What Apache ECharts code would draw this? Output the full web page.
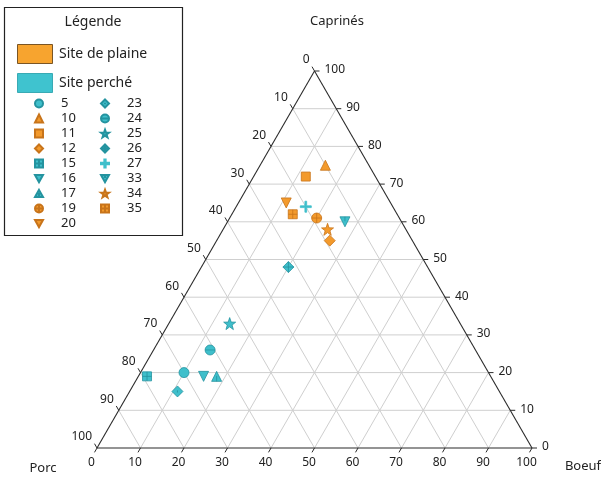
<!DOCTYPE html>
<html>
<head>
<meta charset="utf-8">
<script src="https://cdn.jsdelivr.net/npm/echarts@6/dist/echarts.min.js"></script>
<style>html,body{margin:0;padding:0;background:#fff}#c{width:601px;height:477px}</style>
</head>
<body>
<div id="c"></div>
<script>
// ---- data ----
const sites    = ['5','10','11','12','15','16','17','19','20','23','24','25','26','27','33','34','35'];
const boeuf    = [10, 15, 12, 26,  2, 15, 18, 20, 11, 11, 13, 14, 20, 16, 27, 24, 14];
const caprines = [20, 75, 72, 55, 19, 19, 19, 61, 65, 15, 26, 33, 48, 64, 60, 58, 62];
const porc     = [70, 10, 16, 19, 79, 66, 63, 19, 24, 74, 61, 53, 32, 20, 13, 18, 24];
const siteType = ['perché','plaine','plaine','plaine','perché','perché','perché','plaine','plaine',
                  'perché','perché','perché','perché','perché','perché','plaine','plaine'];
const tickValues = [0,10,20,30,40,50,60,70,80,90,100];
const legendCol1 = ['5','10','11','12','15','16','17','19','20'];
const legendCol2 = ['23','24','25','26','27','33','34','35'];

// ---- styles ----
const H = Math.sqrt(3) / 2;
const FONT = 'Noto Sans';
const COLORS = {plaine: '#F39A2C', 'perché': '#3FBFCB'};
const BORDERS = {plaine: '#C8741A', 'perché': '#24939F'};
const CIRC = 'M0,5 A5,5 0 1,1 10,5 A5,5 0 1,1 0,5 Z';
const STAR = 'path://M5,0 L6.18,3.38 L9.76,3.45 L6.9,5.62 L7.94,9.05 L5,7 L2.06,9.05 L3.1,5.62 L0.24,3.45 L3.82,3.38 Z';
const SYMBOLS = {
  '5':  ['circle', 10],
  '10': ['triangle', 10],
  '11': ['rect', 9],
  '12': ['diamond', 11],
  '15': ['path://M0,0 L10,0 L10,10 L0,10 Z M5,0 L5,10 M0,5 L10,5', 9],
  '16': ['path://M0,0 L10,0 L5,9 Z', 10],
  '17': ['path://M5,0 L10,9 L0,9 Z M5,4 L5,9', 10],
  '19': ['path://' + CIRC + ' M5,0 L5,10 M0,5 L10,5', 10],
  '20': ['path://M0,0 L10,0 L5,9 Z', 10],
  '23': ['path://M5,0 L10,5 L5,10 L0,5 Z M5,4 L5,6', 11],
  '24': ['path://' + CIRC + ' M0,5 L10,5', 10],
  '25': [STAR, 12],
  '26': ['path://M5,0 L10,5 L5,10 L0,5 Z M5,0 L5,10 M0,5 L10,5', 11],
  '27': ['path://M4.2,0 L5.8,0 L5.8,4.2 L10,4.2 L10,5.8 L5.8,5.8 L5.8,10 L4.2,10 L4.2,5.8 L0,5.8 L0,4.2 L4.2,4.2 Z', 11],
  '33': ['path://M0,0 L10,0 L5,9 Z M5,0 L5,4', 10],
  '34': [STAR, 12],
  '35': ['path://M0,0 L10,0 L10,10 L0,10 Z M5,0 L5,10 M0,5 L10,5', 9]
};

// ternary -> cartesian
function tern(b, c, p) {
  const t = b + c + p;
  const bb = 100 * b / t, cc = 100 * c / t;
  return [bb + cc / 2, cc * H];
}

// grid segments
const gridSegs = [];
for (let k = 10; k < 100; k += 10) {
  const a1 = tern(0, k, 100 - k), a2 = tern(100 - k, k, 0);
  gridSegs.push([a1[0], a1[1], a2[0], a2[1]]);
  const b1 = tern(k, 0, 100 - k), b2 = tern(k, 100 - k, 0);
  gridSegs.push([b1[0], b1[1], b2[0], b2[1]]);
  const c1 = tern(100 - k, 0, k), c2 = tern(0, 100 - k, k);
  gridSegs.push([c1[0], c1[1], c2[0], c2[1]]);
}
const vL = tern(0, 0, 100), vR = tern(100, 0, 0), vT = tern(0, 100, 0);
const edgeSegs = [
  [vL[0], vL[1], vR[0], vR[1]],
  [vR[0], vR[1], vT[0], vT[1]],
  [vT[0], vT[1], vL[0], vL[1]]
];

// tick / label positions: [x, y, axisId, label]
const tickData = [];
tickValues.forEach(v => {
  const pb = tern(v, 0, 100 - v);            tickData.push([pb[0], pb[1], 0, v]);
  const pc = tern(100 - v, v, 0);            tickData.push([pc[0], pc[1], 1, v]);
  const pp = tern(0, 100 - v, v);            tickData.push([pp[0], pp[1], 2, v]);
});
const TICKDIR = [[-0.5, 0.866], [1, 0], [-0.5, -0.866]];
const LABOFF = [[-5.5, 15, 'center'], [10, -1, 'left'], [-5, -11, 'right']];

function segRender(color, width) {
  return function (params, api) {
    const p1 = api.coord([api.value(0), api.value(1)]);
    const p2 = api.coord([api.value(2), api.value(3)]);
    return {type: 'line', shape: {x1: p1[0], y1: p1[1], x2: p2[0], y2: p2[1]},
            style: {stroke: color, lineWidth: width}};
  };
}

const series = [
  {type: 'custom', coordinateSystem: 'cartesian2d', data: gridSegs, silent: true, z: 1,
   renderItem: segRender('#cfcfcf', 1), encode: {x: [0, 2], y: [1, 3]}},
  {type: 'custom', coordinateSystem: 'cartesian2d', data: edgeSegs, silent: true, z: 2,
   renderItem: segRender('#2a2a2a', 1.1), encode: {x: [0, 2], y: [1, 3]}},
  {type: 'custom', coordinateSystem: 'cartesian2d', data: tickData, silent: true, z: 2,
   encode: {x: 0, y: 1},
   renderItem: function (params, api) {
     const p = api.coord([api.value(0), api.value(1)]);
     const ax = api.value(2);
     const d = TICKDIR[ax], o = LABOFF[ax];
     return {type: 'group', children: [
       {type: 'line', shape: {x1: p[0], y1: p[1], x2: p[0] + d[0] * 5, y2: p[1] + d[1] * 5},
        style: {stroke: '#2a2a2a', lineWidth: 1}},
       {type: 'text', x: p[0] + o[0], y: p[1] + o[1],
        style: {text: String(api.value(3)), fill: '#222', font: '12px "' + FONT + '"',
                align: o[2], verticalAlign: 'middle'}}
     ]};
   }}
];

sites.forEach((s, i) => {
  const t = siteType[i];
  series.push({
    name: s, type: 'scatter', z: 5,
    symbol: SYMBOLS[s][0], symbolSize: SYMBOLS[s][1],
    itemStyle: {color: COLORS[t], borderColor: s === '27' ? COLORS[t] : BORDERS[t], borderWidth: 0.8, opacity: 1},
    data: [tern(boeuf[i], caprines[i], porc[i])]
  });
});

function legendCfg(data, left) {
  return {data: data, orient: 'vertical', left: left, top: 96, padding: 0,
          itemWidth: 8, itemHeight: 8, itemGap: 0, selectedMode: false,
          textStyle: {fontFamily: FONT, fontSize: 13, lineHeight: 15, color: '#222', padding: [0, 0, 0, 13]}};
}

const option = {
  animation: false,
  backgroundColor: '#fff',
  grid: {left: 97, right: 69, top: 71, bottom: 29, containLabel: false},
  xAxis: {type: 'value', min: 0, max: 100, show: false},
  yAxis: {type: 'value', min: 0, max: 100 * H, show: false},
  legend: [legendCfg(legendCol1, 34), legendCfg(legendCol2, 100)],
  graphic: [
    {type: 'rect', shape: {x: 4.5, y: 7.5, width: 178, height: 228}, style: {fill: '#fff', stroke: '#222', lineWidth: 1.2}, z: -1},
    {type: 'text', x: 93, y: 22, style: {text: 'Légende', font: '14px "' + FONT + '"', fill: '#222', align: 'center', verticalAlign: 'middle'}},
    {type: 'rect', shape: {x: 17.5, y: 44.5, width: 35, height: 19}, style: {fill: '#F7A42F', stroke: '#7A5524', lineWidth: 1}},
    {type: 'text', x: 59, y: 54, style: {text: 'Site de plaine', font: '14px "' + FONT + '"', fill: '#222', verticalAlign: 'middle'}},
    {type: 'rect', shape: {x: 17.5, y: 73.5, width: 35, height: 19}, style: {fill: '#3FC3CF', stroke: '#39AAB4', lineWidth: 1}},
    {type: 'text', x: 59, y: 83, style: {text: 'Site perché', font: '14px "' + FONT + '"', fill: '#222', verticalAlign: 'middle'}},
    {type: 'text', x: 337, y: 21, style: {text: 'Caprinés', font: '13px "' + FONT + '"', fill: '#222', align: 'center', verticalAlign: 'middle'}},
    {type: 'text', x: 43, y: 468, style: {text: 'Porc', font: '13px "' + FONT + '"', fill: '#222', align: 'center', verticalAlign: 'middle'}},
    {type: 'text', x: 583, y: 466, style: {text: 'Boeuf', font: '13px "' + FONT + '"', fill: '#222', align: 'center', verticalAlign: 'middle'}}
  ],
  series: series
};

const chart = echarts.init(document.getElementById('c'), null, {renderer: 'canvas'});
chart.setOption(option);
</script>
</body>
</html>
